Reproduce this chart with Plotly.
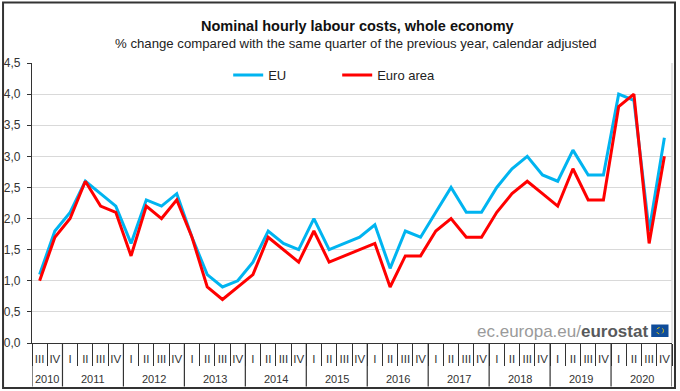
import plotly.graph_objects as go

title = "Nominal hourly labour costs, whole economy"
subtitle = "% change compared with the same quarter of the previous year, calendar adjusted"
year_labels = ["2010", "2011", "2012", "2013", "2014", "2015", "2016", "2017", "2018", "2019", "2020"]
year_quarter_counts = [2, 4, 4, 4, 4, 4, 4, 4, 4, 4, 4]
quarters = ["III", "IV"] + ["I", "II", "III", "IV"] * 10
eu = [1.1, 1.8,
      2.1, 2.6, 2.4, 2.2,
      1.6, 2.3, 2.2, 2.4,
      1.7, 1.1, 0.9, 1.0,
      1.3, 1.8, 1.6, 1.5,
      2.0, 1.5, 1.6, 1.7,
      1.9, 1.2, 1.8, 1.7,
      2.1, 2.5, 2.1, 2.1,
      2.5, 2.8, 3.0, 2.7,
      2.6, 3.1, 2.7, 2.7,
      4.0, 3.9, 1.8, 3.3]
euro_area = [1.0, 1.7,
             2.0, 2.6, 2.2, 2.1,
             1.4, 2.2, 2.0, 2.3,
             1.7, 0.9, 0.7, 0.9,
             1.1, 1.7, 1.5, 1.3,
             1.8, 1.3, 1.4, 1.5,
             1.6, 0.9, 1.4, 1.4,
             1.8, 2.0, 1.7, 1.7,
             2.1, 2.4, 2.6, 2.4,
             2.2, 2.8, 2.3, 2.3,
             3.8, 4.0, 1.6, 3.0]
y_ticks = [0, 0.5, 1, 1.5, 2, 2.5, 3, 3.5, 4, 4.5]

W, H = 680, 391
L, R, T, B = 31.5, 672.5, 63, 343
INK = "#333333"


def px(x):
    return (x - L) / (R - L)


def py(y):
    return (B - y) / (B - T)


idx = list(range(len(quarters)))
boundaries = [i - 0.5 for i in idx] + [idx[-1] + 0.5]

fig = go.Figure()
fig.add_scatter(x=idx, y=eu, name="EU", mode="lines", line=dict(color="#00b4f0", width=3))
fig.add_scatter(x=idx, y=euro_area, name="Euro area", mode="lines", line=dict(color="#ff0000", width=3))

annotations = [
    dict(text="<b>" + title + "</b>", x=px(357.5), y=py(26), xref="paper", yref="paper",
         showarrow=False, xanchor="center", yanchor="middle", font=dict(size=14.5, color="#111111")),
    dict(text=subtitle, x=px(356.5), y=py(43), xref="paper", yref="paper",
         showarrow=False, xanchor="center", yanchor="middle", font=dict(size=13.2, color="#222222")),
    dict(text='ec.europa.eu/<b><span style="color:#58595b">eurostat</span></b>', x=px(650), y=py(331),
         xref="paper", yref="paper", showarrow=False, xanchor="right", yanchor="middle",
         font=dict(size=17, color="#9a9a9a")),
]
shapes = [
    dict(type="rect", xref="paper", yref="paper", x0=px(2.5), x1=px(675.5), y0=py(388), y1=py(2.5),
         line=dict(color=INK, width=2), fillcolor="rgba(0,0,0,0)", layer="above"),
    dict(type="line", xref="paper", yref="paper", x0=1, x1=1, y0=0, y1=1,
         line=dict(color="#d0d0d0", width=1.2), layer="below"),
    dict(type="rect", xref="paper", yref="paper", x0=px(651.7), x1=px(669), y0=py(337), y1=py(324.5),
         line=dict(width=0), fillcolor="#0f4c9a", layer="above"),
    dict(type="circle", xref="paper", yref="paper", x0=px(657), x1=px(664), y0=py(334), y1=py(327.5),
         line=dict(color="#d9c21a", width=1, dash="dot"), fillcolor="rgba(0,0,0,0)", layer="above"),
]
start = 0
for label, n in zip(year_labels, year_quarter_counts):
    annotations.append(dict(text=label, x=start - 0.5 + n / 2, y=py(379), xref="x", yref="paper",
                            showarrow=False, xanchor="center", yanchor="middle",
                            font=dict(size=11, color=INK)))
    shapes.append(dict(type="line", xref="x", yref="paper", x0=start - 0.5, x1=start - 0.5,
                       y0=0, y1=py(386.5), line=dict(color=INK, width=1.2)))
    start += n
shapes.append(dict(type="line", xref="x", yref="paper", x0=start - 0.5, x1=start - 0.5,
                   y0=0, y1=py(386.5), line=dict(color=INK, width=1.2)))

fig.update_layout(
    width=W, height=H, autosize=False,
    margin=dict(l=L, r=W - R, t=T, b=H - B, autoexpand=False),
    paper_bgcolor="white", plot_bgcolor="white",
    font=dict(family="Liberation Sans, Arial, sans-serif", size=11, color=INK),
    separators=",.",
    showlegend=True,
    legend=dict(orientation="h", x=px(228), xanchor="left", y=py(75), yanchor="middle",
                bgcolor="rgba(0,0,0,0)", entrywidth=64, entrywidthmode="pixels",
                font=dict(size=13, color="#222222")),
    xaxis=dict(range=[-0.5, len(idx) - 0.5], tickmode="array", tickvals=idx, ticktext=quarters,
               tickangle=0, automargin=False, showgrid=False, zeroline=False,
               showline=True, linecolor=INK, linewidth=1.2,
               ticks="", ticklabelstandoff=5,
               minor=dict(tickmode="array", tickvals=boundaries, ticks="outside", ticklen=22,
                          tickcolor=INK, tickwidth=1, showgrid=False),
               tickfont=dict(size=11.5, color=INK)),
    yaxis=dict(range=[0, 4.5], tickvals=y_ticks, tickformat=".1f", automargin=False, showgrid=True,
               gridcolor="#d9d9d9", gridwidth=1.2, zeroline=False, showline=True, linecolor=INK,
               linewidth=1.2, ticks="outside", ticklen=4, tickcolor=INK, ticklabelstandoff=4,
               tickfont=dict(size=12, color=INK)),
    annotations=annotations,
    shapes=shapes,
)
fig.write_html("out.html", config=dict(displayModeBar=False),
               post_script="document.body.style.margin='0';document.documentElement.style.overflow='hidden';")
